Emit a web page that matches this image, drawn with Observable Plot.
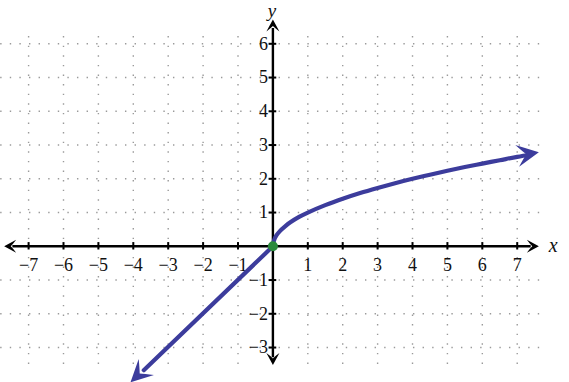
<!DOCTYPE html>
<html>
<head>
<meta charset="utf-8">
<script src="https://cdn.jsdelivr.net/npm/d3@7"></script>
<script src="https://cdn.jsdelivr.net/npm/@observablehq/plot@0.6"></script>
<style>
  html, body { margin: 0; padding: 0; background: #fff; }
  svg { display: block; }
  svg text { font-family: "Liberation Serif", "DejaVu Serif", serif; }
</style>
</head>
<body>
<div id="chart"></div>
<script>
// Tick labels / grid positions
const xTicks = [-7, -6, -5, -4, -3, -2, -1, 1, 2, 3, 4, 5, 6, 7];
const yTicks = [-3, -2, -1, 1, 2, 3, 4, 5, 6];
const xGrid = [-7, -6, -5, -4, -3, -2, -1, 1, 2, 3, 4, 5, 6, 7];
const yGrid = [-3, -2, -1, 1, 2, 3, 4, 5, 6];

// Right branch
const posX = [0, 0.03, 0.1, 0.2, 0.35, 0.5, 0.75, 1, 1.5, 2, 2.5, 3, 3.5, 4, 4.5, 5, 5.5, 6, 6.5, 7, 7.4];
const posY = [0, 0.17, 0.32, 0.45, 0.59, 0.71, 0.87, 1, 1.22, 1.41, 1.58, 1.73, 1.87, 2, 2.12, 2.24, 2.35, 2.45, 2.55, 2.65, 2.72];
// Left branch
const negX = [-3.7, 0];
const negY = [-3.67, 0];
// Arrow tips of the graph
const tipX = [7.62, -4.08];
const tipY = [2.79, -4.03];
const tipAngle = [-10, 136];
// Origin point
const originX = [0];
const originY = [0];

const curveColor = "#3c3c9c";
const dotColor = "#2a8a3c";

function arrowSymbol(angleDeg, L, W, notch) {
  const a = angleDeg * Math.PI / 180, c = Math.cos(a), s = Math.sin(a);
  const R = ([x, y]) => [x * c - y * s, x * s + y * c];
  const tip = R([0, 0]), b1 = R([-L, -W]), n = R([-L * notch, 0]), b2 = R([-L, W]);
  const c1 = R([-L * 0.72, -W * 0.3]), c2 = R([-L * 0.72, W * 0.3]);
  return {
    draw(ctx) {
      ctx.moveTo(tip[0], tip[1]);
      ctx.lineTo(b1[0], b1[1]);
      ctx.quadraticCurveTo(c1[0], c1[1], n[0], n[1]);
      ctx.quadraticCurveTo(c2[0], c2[1], b2[0], b2[1]);
      ctx.closePath();
    }
  };
}

const pos = posX.map((x, i) => ({x, y: posY[i]}));
const neg = negX.map((x, i) => ({x, y: negY[i]}));
const tips = tipX.map((x, i) => ({x, y: tipY[i], a: tipAngle[i]}));

const axisTips = [
  {x: 7.62, y: 0, a: 0},
  {x: -7.7, y: 0, a: 180},
  {x: 0, y: 6.72, a: -90},
  {x: 0, y: -3.52, a: 90}
];

const serif = "Liberation Serif";

const chart = Plot.plot({
  width: 569,
  height: 382,
  marginTop: 0, marginRight: 0, marginBottom: 0, marginLeft: 0,
  x: {domain: [-7.805, 8.498], range: [0, 569], axis: null},
  y: {domain: [-4.036, 7.283], range: [382, 0], axis: null},
  style: {background: "#fff", overflow: "visible", fontFamily: "Liberation Serif, serif"},
  marks: [
    // grid
    Plot.ruleX(xGrid, {y1: -3.5, y2: 6.45, stroke: "#9a9a9a", strokeWidth: 1.4, strokeDasharray: "1.4,8.2"}),
    Plot.ruleY(yGrid, {x1: -7.8, x2: 7.8, stroke: "#9a9a9a", strokeWidth: 1.4, strokeDasharray: "1.4,8.2"}),
    // axes
    Plot.ruleY([0], {x1: -7.45, x2: 7.4, stroke: "#000", strokeWidth: 2.4}),
    Plot.ruleX([0], {y1: -3.3, y2: 6.45, stroke: "#000", strokeWidth: 2.4}),
    // axis ticks
    Plot.ruleX(xTicks, {y1: -0.11, y2: 0.11, stroke: "#000", strokeWidth: 2}),
    Plot.ruleY(yTicks, {x1: -0.11, x2: 0.11, stroke: "#000", strokeWidth: 2}),
    // axis arrowheads
    ...axisTips.map(t => Plot.dot([t], {x: "x", y: "y", r: 1, symbol: arrowSymbol(t.a, 12, 6.5, 0.55), fill: "#000", stroke: "none"})),
    // tick labels
    Plot.text(xTicks, {x: d => d, y: 0, dy: 19, text: d => String(d).replace("-", "\u2212"), fontFamily: serif, fontSize: 18, fill: "#111", textAnchor: "middle"}),
    Plot.text(yTicks, {x: 0, y: d => d, dx: -5, text: d => String(d).replace("-", "\u2212"), fontFamily: serif, fontSize: 18, fill: "#111", textAnchor: "end"}),
    // axis names
    Plot.text(["x"], {x: 7.6, y: 0, dx: 15, dy: -1, text: d => d, fontFamily: serif, fontStyle: "italic", fontSize: 20, fill: "#111"}),
    Plot.text(["y"], {x: 0, y: 6.72, dy: -8.5, dx: -1, text: d => d, fontFamily: serif, fontStyle: "italic", fontSize: 19, fill: "#111"}),
    // graph
    Plot.line(neg, {x: "x", y: "y", stroke: curveColor, strokeWidth: 4.2}),
    Plot.line(pos, {x: "x", y: "y", stroke: curveColor, strokeWidth: 4.2, curve: "catmull-rom"}),
    ...tips.map(t => Plot.dot([t], {x: "x", y: "y", r: 1, symbol: arrowSymbol(t.a, 22, 11, 0.58), fill: curveColor, stroke: "none"})),
    Plot.dot(originX.map((x, i) => ({x, y: originY[i]})), {x: "x", y: "y", r: 5, fill: dotColor, stroke: "none"})
  ]
});
document.getElementById("chart").appendChild(chart);
</script>
</body>
</html>
